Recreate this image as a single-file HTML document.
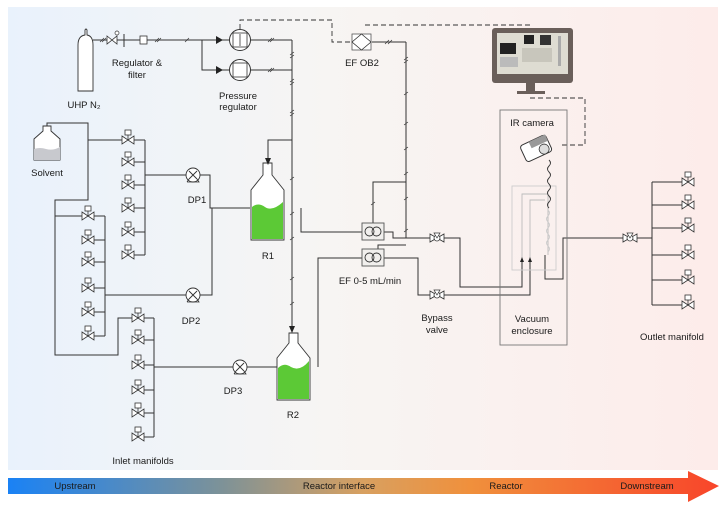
<!DOCTYPE html>
<html><head><meta charset="utf-8"><style>
html,body{margin:0;padding:0;background:#fff;}
svg{display:block;font-family:"Liberation Sans",sans-serif;}
text{font-size:9.5px;fill:#1a1a1a;}
</style></head><body>
<svg width="725" height="514" viewBox="0 0 725 514" xmlns="http://www.w3.org/2000/svg">
<defs>
<linearGradient id="bg" x1="0" x2="1" y1="0" y2="0">
<stop offset="0" stop-color="#e9f2fc"/><stop offset="0.45" stop-color="#f7f5f3"/><stop offset="1" stop-color="#fdecea"/>
</linearGradient>
<linearGradient id="bar" x1="0" x2="1" y1="0" y2="0">
<stop offset="0" stop-color="#1a82f5"/><stop offset="0.3" stop-color="#7d9298"/><stop offset="0.5" stop-color="#d8a060"/><stop offset="0.65" stop-color="#f0903c"/><stop offset="1" stop-color="#f8452a"/>
</linearGradient>
<g id="v"><path d="M-6,-4 L6,4 L6,-4 L-6,4 Z" fill="#fff" stroke="#333" stroke-width="0.8"/><line x1="0" y1="0" x2="0" y2="-5" stroke="#333" stroke-width="0.8"/><rect x="-3" y="-10" width="6" height="5" fill="#fff" stroke="#333" stroke-width="0.8"/></g>
<g id="hv"><path d="M-7,-4 L7,4 L7,-4 L-7,4 Z" fill="#fff" stroke="#333" stroke-width="0.8"/><circle cx="0" cy="0" r="3" fill="#fff" stroke="#333" stroke-width="0.8"/><path d="M-3,-5 L3,-5 L0,0Z" fill="#fff" stroke="#333" stroke-width="0.7"/></g>
<g id="pump"><circle r="7" fill="#fff" stroke="#333" stroke-width="0.9"/><path d="M-4,-4 L4,4 M-4,4 L4,-4" stroke="#333" stroke-width="0.9"/><path d="M-6,7 L6,7 L4,4 M-4,4 L-6,7" stroke="#333" fill="none" stroke-width="0.8"/></g>
<g id="ef"><rect x="0" y="0" width="22" height="17" fill="#f1efed" stroke="#555" stroke-width="0.9"/><circle cx="7.5" cy="8.5" r="4.5" fill="none" stroke="#333" stroke-width="0.9"/><circle cx="14.5" cy="8.5" r="4.5" fill="none" stroke="#333" stroke-width="0.9"/></g>
</defs>
<rect x="8" y="7" width="710" height="463" fill="url(#bg)"/>
<path d="M8,478 L688,478 L688,471 L719,486 L688,502 L688,494 L8,494 Z" fill="url(#bar)"/>
<text x="75" y="489" text-anchor="middle">Upstream</text>
<text x="339" y="489" text-anchor="middle">Reactor interface</text>
<text x="506" y="489" text-anchor="middle">Reactor</text>
<text x="647" y="489" text-anchor="middle">Downstream</text>

<g stroke="#333" stroke-width="1" fill="none">
<path d="M93,40 L292,40 M202,40 L202,70 L292,70 M292,40 L292,330"/>
<path d="M268,165 L268,140 L292,140"/>
<path d="M301,208 L301,232 L362,232 M318,367 L318,258 L362,258"/>
<path d="M373,223 L373,182 L406,182 M406,42 L406,238 M378,249 L378,245 L406,245"/>
<path d="M384,232 L393,232 L393,238 L431,238 M443,238 L460,238 L460,287 L522,287 L522,262"/>
<path d="M384,258 L418,258 L418,295 L431,295 M443,295 L530,295 L530,262"/>
<path d="M372,42 L406,42"/>
<path d="M47,126 L47,123 L88,123 L88,200 L55,200 L55,355 L118,355 L118,318 L132,318"/>
<path d="M88,140 L122,140 M55,216 L82,216"/>
<path d="M145,140 L145,255 M105,216 L105,336 M154,318 L154,437"/>
<path d="M134,140 L145,140 M134,162 L145,162 M134,185 L145,185 M134,208 L145,208 M134,232 L145,232 M134,255 L145,255"/>
<path d="M94,216 L105,216 M94,240 L105,240 M94,262 L105,262 M94,288 L105,288 M94,312 L105,312 M94,336 L105,336"/>
<path d="M144,318 L154,318 M144,340 L154,340 M144,365 L154,365 M144,390 L154,390 M144,413 L154,413 M144,437 L154,437"/>
<path d="M145,175 L186,175 M200,175 L210,175 L210,208 L250,208 M105,295 L186,295 M200,295 L212,295 L212,208"/>
<path d="M154,367 L233,367 M247,367 L277,367"/>
<path d="M545,255 L545,279 L563,279 L563,238 L624,238 M636,238 L652,238 M652,182 L652,305"/>
<path d="M652,182 L682,182 M652,205 L682,205 M652,228 L682,228 M652,255 L682,255 M652,280 L682,280 M652,305 L682,305"/>
</g>
<g stroke="#333" stroke-width="0.9" fill="none" stroke-dasharray="5,3">
<path d="M240,29 L240,20 L332,20 L332,42 L352,42"/>
<path d="M365,25 L530,25"/>
<path d="M530,98 L585,98 L585,145 L560,145"/>
</g>
<g stroke="#333" stroke-width="0.7">
<path d="M100,42 l4,-4 M102,42 l4,-4 M155,42 l4,-4 M157,42 l4,-4 M185,42 l4,-4 M268,42 l4,-4 M270,42 l4,-4 M268,72 l4,-4 M270,72 l4,-4"/>
<path d="M290,55 l4,-3 M290,58 l4,-3 M290,82 l4,-3 M290,85 l4,-3 M290,113 l4,-3 M290,116 l4,-3 M290,180 l4,-3 M290,215 l4,-3 M290,240 l4,-3 M290,280 l4,-3 M290,305 l4,-3"/>
<path d="M404,60 l4,-3 M404,63 l4,-3 M404,95 l4,-3 M404,125 l4,-3 M404,150 l4,-3 M404,175 l4,-3 M404,200 l4,-3 M404,232 l4,-3 M371,205 l4,-3 M385,44 l4,-4 M388,44 l4,-4"/>
</g>
<path d="M78,91 L78,45 Q78,36 85,35 L85,30 Q86,28 87,30 L87,35 Q93,36 93,45 L93,91 Z" fill="#fff" stroke="#333" stroke-width="0.9"/>
<path d="M107,36 L117,44 L117,36 L107,44 Z" fill="#fff" stroke="#333" stroke-width="0.8"/>
<line x1="124" y1="34" x2="124" y2="47" stroke="#333"/>
<circle cx="117" cy="33" r="2" fill="#fff" stroke="#333" stroke-width="0.7"/>
<rect x="140" y="36" width="7" height="8" fill="#fff" stroke="#333" stroke-width="0.8"/>
<text x="137" y="66" text-anchor="middle">Regulator &amp;</text>
<text x="137" y="78" text-anchor="middle">filter</text>
<text x="84" y="108" text-anchor="middle">UHP N₂</text>
<path d="M216,36 L223,40 L216,44Z M216,66 L223,70 L216,74Z" fill="#222"/>
<circle cx="240" cy="40" r="10.5" fill="#fff" stroke="#333"/><rect x="233" y="33" width="14" height="14" fill="none" stroke="#333" stroke-width="0.8"/><line x1="240" y1="34" x2="240" y2="46" stroke="#333" stroke-width="0.8"/>
<circle cx="240" cy="70" r="10.5" fill="#fff" stroke="#333"/><rect x="233" y="63" width="14" height="14" fill="none" stroke="#333" stroke-width="0.8"/>
<text x="238" y="99" text-anchor="middle">Pressure</text>
<text x="238" y="110" text-anchor="middle">regulator</text>
<rect x="352" y="34" width="19" height="16" fill="#fff" stroke="#555" stroke-width="0.8"/>
<path d="M361.5,34 L371,42 L361.5,50 L352,42 Z" fill="none" stroke="#333" stroke-width="0.8"/>
<text x="362" y="66" text-anchor="middle">EF OB2</text>
<rect x="492" y="28" width="81" height="55" rx="3" fill="#6a5f5a"/>
<rect x="497" y="33" width="71" height="41" fill="#dedcd2"/>
<rect x="500" y="43" width="16" height="11" fill="#222"/>
<rect x="524" y="35" width="10" height="9" fill="#222"/><rect x="540" y="35" width="11" height="10" fill="#333"/>
<rect x="558" y="36" width="3" height="30" fill="#aaa"/>
<rect x="500" y="57" width="18" height="10" fill="#bbb"/><rect x="522" y="48" width="30" height="14" fill="#c8c6bc"/>
<rect x="526" y="83" width="9" height="9" fill="#6a5f5a"/><rect x="517" y="91" width="28" height="3" fill="#6a5f5a"/>
<rect x="500" y="110" width="67" height="235" fill="none" stroke="#777" stroke-width="0.9"/>
<text x="532" y="126" text-anchor="middle">IR camera</text>
<text x="532" y="322" text-anchor="middle">Vacuum</text>
<text x="532" y="334" text-anchor="middle">enclosure</text>
<rect x="512" y="186" width="44" height="84" fill="none" stroke="#ccc" stroke-width="0.9"/>
<path d="M522,262 L522,194 L548,194 L548,255 M530,262 L530,200 L545,200" fill="none" stroke="#bbb" stroke-width="0.9"/>
<path d="M520,262 L522,257 L524,262Z M528,262 L530,257 L532,262Z" fill="#222"/>
<path d="M549,160 q3,3 0,6 q-3,3 0,6 q3,3 0,6 q-3,3 0,6 q3,3 0,6 q-3,3 0,6 q3,3 0,6 q-3,3 0,6" fill="none" stroke="#333" stroke-width="0.9"/>
<path d="M548,210 q3,3 0,6 q-3,3 0,6 q3,3 0,6 q-3,3 0,6 q3,3 0,6 q-3,3 0,6 q3,3 0,6" fill="none" stroke="#ccc" stroke-width="0.9"/>
<g transform="translate(537,148) rotate(-25)"><rect x="-15" y="-9" width="28" height="18" rx="3" fill="#fff" stroke="#333"/><rect x="-5" y="-9" width="18" height="7" fill="#999"/><circle cx="6" cy="4" r="5" fill="#ddd" stroke="#333" stroke-width="0.8"/></g>
<path d="M43,126 L43,131 L34,139 L34,160 L60,160 L60,139 L51,131 L51,126 Z" fill="#fff" stroke="#333" stroke-width="0.9"/>
<path d="M34,149 Q40,147 46,149 Q53,151 60,147 L60,160 L34,160 Z" fill="#c8c9ce"/>
<text x="47" y="176" text-anchor="middle">Solvent</text>
<use href="#v" x="128" y="140"/><use href="#v" x="128" y="162"/><use href="#v" x="128" y="185"/><use href="#v" x="128" y="208"/><use href="#v" x="128" y="232"/><use href="#v" x="128" y="255"/>
<use href="#v" x="88" y="216"/><use href="#v" x="88" y="240"/><use href="#v" x="88" y="262"/><use href="#v" x="88" y="288"/><use href="#v" x="88" y="312"/><use href="#v" x="88" y="336"/>
<use href="#v" x="138" y="318"/><use href="#v" x="138" y="340"/><use href="#v" x="138" y="365"/><use href="#v" x="138" y="390"/><use href="#v" x="138" y="413"/><use href="#v" x="138" y="437"/>
<use href="#v" x="688" y="182"/><use href="#v" x="688" y="205"/><use href="#v" x="688" y="228"/><use href="#v" x="688" y="255"/><use href="#v" x="688" y="280"/><use href="#v" x="688" y="305"/>
<use href="#hv" x="437" y="238"/><use href="#hv" x="437" y="295"/><use href="#hv" x="630" y="238"/>
<text x="143" y="464" text-anchor="middle">Inlet manifolds</text>
<text x="672" y="340" text-anchor="middle">Outlet manifold</text>
<text x="437" y="321" text-anchor="middle">Bypass</text>
<text x="437" y="333" text-anchor="middle">valve</text>
<use href="#pump" x="193" y="175"/><use href="#pump" x="193" y="295"/><use href="#pump" x="240" y="367"/>
<text x="197" y="203" text-anchor="middle">DP1</text>
<text x="191" y="324" text-anchor="middle">DP2</text>
<text x="233" y="394" text-anchor="middle">DP3</text>
<path d="M263,163 L263,175 L251,190 L251,240 L284,240 L284,190 L272,175 L272,163 Z" fill="#fff" stroke="#333" stroke-width="0.9"/>
<path d="M252,207 Q258,202 265,207 Q272,212 283,202 L283,239 L252,239 Z" fill="#5cc936"/>
<path d="M265,158 L268,165 L271,158Z" fill="#222"/>
<text x="268" y="259" text-anchor="middle">R1</text>
<path d="M289,333 L289,343 L277,358 L277,400 L310,400 L310,358 L298,343 L298,333 Z" fill="#fff" stroke="#333" stroke-width="0.9"/>
<path d="M278,368 Q284,362 291,367 Q300,372 309,361 L309,399 L278,399 Z" fill="#5cc936"/>
<path d="M289,326 L292,333 L295,326Z" fill="#222"/>
<text x="293" y="418" text-anchor="middle">R2</text>
<use href="#ef" x="362" y="223"/><use href="#ef" x="362" y="249"/>
<text x="370" y="284" text-anchor="middle">EF 0-5 mL/min</text>
</svg>
</body></html>
